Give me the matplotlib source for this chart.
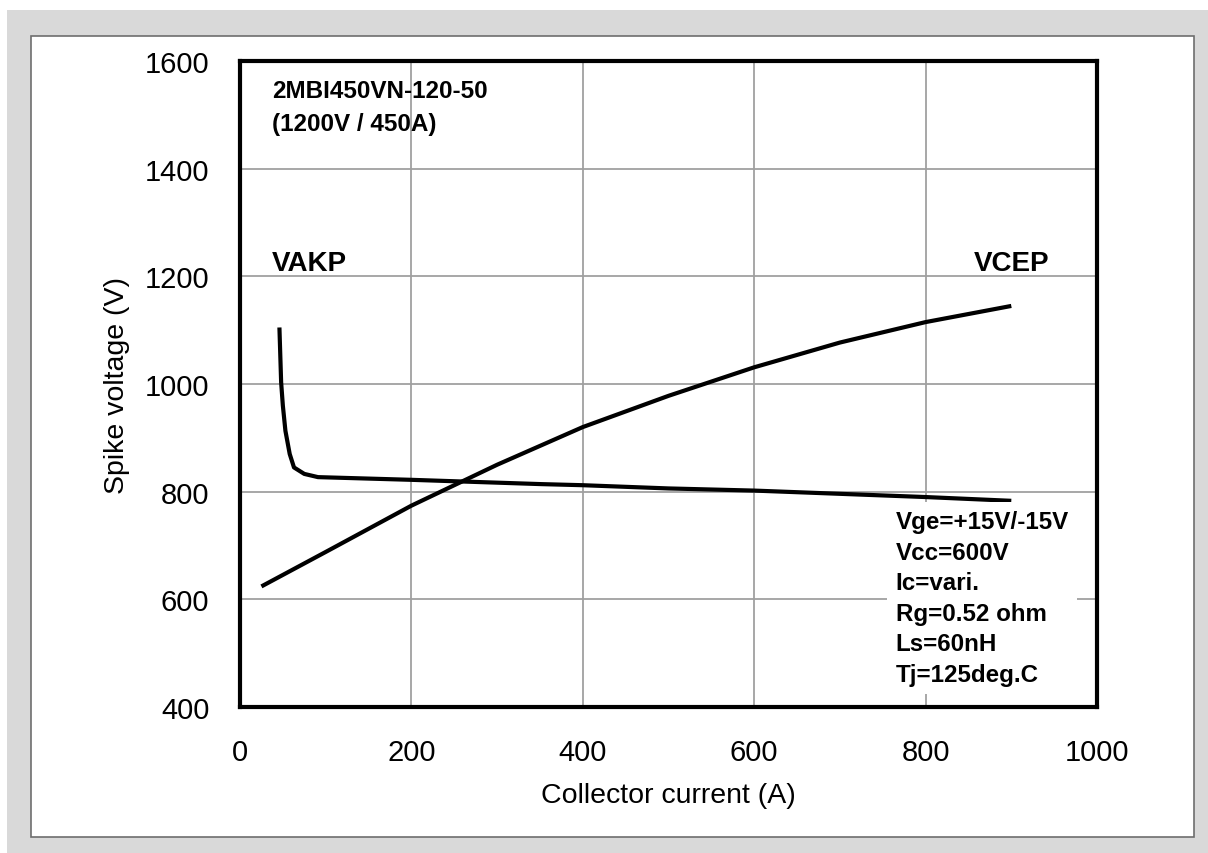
import matplotlib.pyplot as plt
from matplotlib.patches import Rectangle

plt.rcParams['font.family'] = ['Liberation Sans', 'DejaVu Sans']

# VCEP: spike voltage at turn-off vs collector current
vcep_ic = [25, 100, 200, 250, 300, 400, 500, 600, 700, 800, 900]
vcep_v = [624, 688, 774, 812, 850, 920, 978, 1031, 1077, 1115, 1145]

# VAKP: diode reverse recovery spike voltage
vakp_ic = [46, 48, 50, 53, 58, 63, 75, 91, 200, 352, 400, 500, 600, 700, 800, 900]
vakp_v = [1105, 1003, 960, 913, 870, 845, 833, 827, 822, 814, 812, 806, 802, 796, 790, 783]

conditions = ["Vge=+15V/-15V", "Vcc=600V", "Ic=vari.", "Rg=0.52 ohm", "Ls=60nH", "Tj=125deg.C"]

fig = plt.figure(figsize=(12.08, 8.54), dpi=100)
W, H = 1208, 854
# grey surround and white panel
fig.patches.append(Rectangle((7 / W, 0), 1 - 7 / W, 1 - 11 / H, transform=fig.transFigure,
                             facecolor='#d9d9d9', edgecolor='none', zorder=-3))
fig.patches.append(Rectangle((31 / W, 1 - 838 / H), (1194 - 31) / W, (838 - 37) / H,
                             transform=fig.transFigure, facecolor='white',
                             edgecolor='#6e6e6e', linewidth=1.2, zorder=-2))

ax = fig.add_axes([240 / W, 1 - 708 / H, (1097 - 240) / W, (708 - 62) / H])
ax.set_facecolor('white')

ax.plot(vcep_ic, vcep_v, color='black', linewidth=3.0, solid_capstyle='butt', zorder=3)
ax.plot(vakp_ic, vakp_v, color='black', linewidth=3.0, solid_capstyle='butt', zorder=3)

ax.set_xlim(0, 1000)
ax.set_ylim(400, 1600)
ax.set_xticks(range(0, 1001, 200))
ax.set_yticks(range(400, 1601, 200))
ax.grid(True, color='#a0a0a0', linewidth=1.3)
ax.set_axisbelow(True)
ax.tick_params(length=0, labelsize=21, pad=22)
for s in ax.spines.values():
    s.set_linewidth(3.0)
    s.set_color('black')
    s.set_zorder(5)

ax.set_xlabel("Collector current (A)", fontsize=20.5, labelpad=12)
ax.set_ylabel("Spike voltage (V)", fontsize=20.5, labelpad=11)

ax.text(37, 1567, "2MBI450VN-120-50\n(1200V / 450A)", fontsize=17.5, fontweight='bold',
        va='top', ha='left', linespacing=1.55)
ax.text(37, 1224, "VAKP", fontsize=20, fontweight='bold', ha='left', va='center')
ax.text(945, 1224, "VCEP", fontsize=20, fontweight='bold', ha='right', va='center')

ax.text(765, 766, "\n".join(conditions), fontsize=17.4, fontweight='bold', ha='left', va='top',
        linespacing=1.42, zorder=4,
        bbox=dict(facecolor='white', edgecolor='none', pad=6))

fig.savefig("out.png", dpi=100)
